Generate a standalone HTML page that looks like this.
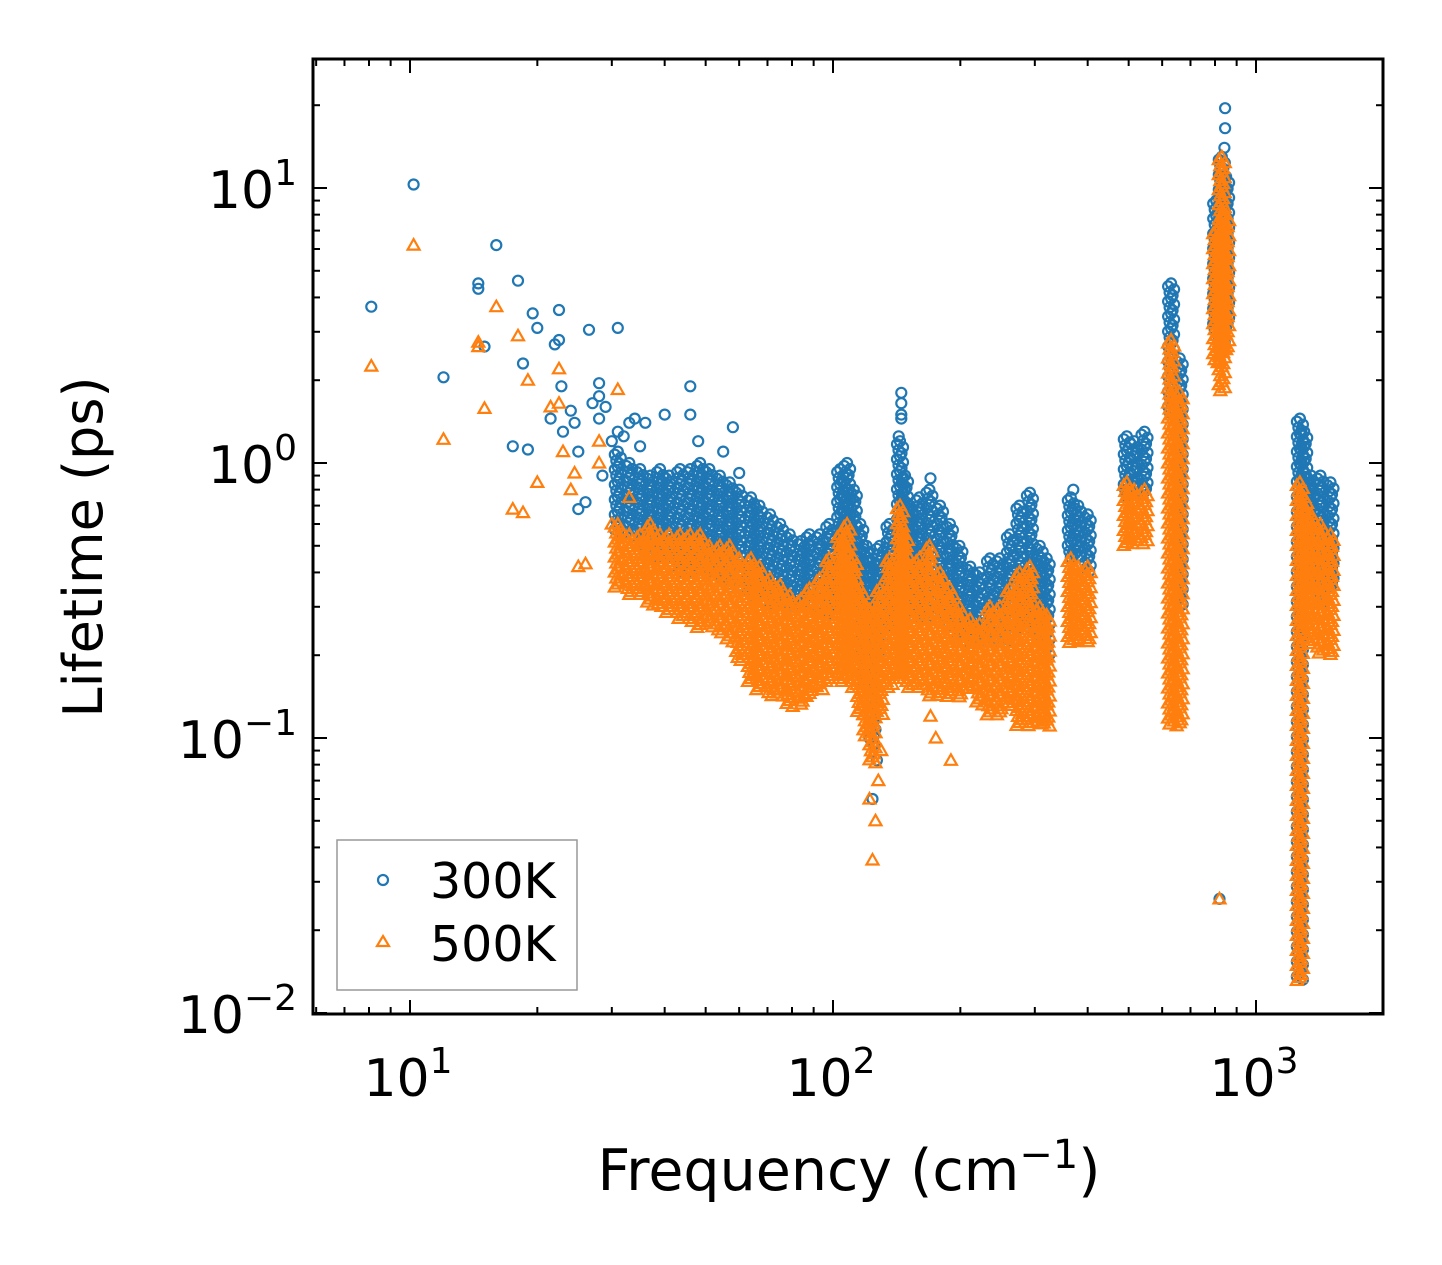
<!DOCTYPE html>
<html><head><meta charset="utf-8"><style>
html,body{margin:0;padding:0;background:#fff}
svg{display:block}
text{font-family:"DejaVu Sans","Liberation Sans",sans-serif;fill:#000}
</style></head><body>
<svg id="chart" width="1442" height="1265" viewBox="0 0 1442 1265" xmlns="http://www.w3.org/2000/svg">
<rect x="0" y="0" width="1442" height="1265" fill="#fff"/>
<g id="marks"></g>
<g id="axes"></g>
<g id="legend">
  <rect x="337" y="840" width="240" height="150" fill="#fff" stroke="#999" stroke-width="1.5"/>
  <circle cx="383" cy="880" r="5" fill="none" stroke="#1f77b4" stroke-width="2.2"/>
  <text x="430" y="898" font-size="49">300K</text>
  <polygon points="383,936 389,946 377,946" fill="none" stroke="#ff7f0e" stroke-width="2.2"/>
  <text x="430" y="961" font-size="49">500K</text>
</g>
<text transform="translate(102,547) rotate(-90)" text-anchor="middle" font-size="54">Lifetime (ps)</text>
<text x="849" y="1190" text-anchor="middle" font-size="57">Frequency (cm<tspan dy="-22" font-size="40">−1</tspan><tspan dy="22">)</tspan></text>
</svg>
<script>
// Dense column envelopes: frequency (cm^-1), 300K lifetime range, 500K lifetime range (ps)
const colF     = [31,33,35,37,39,41,43.5,46,48.5,51,54,57,60,64,67,71,75,79,84,88,93,98,104,108,112,116,120,124,129,136,144,148,152,160,169,179,189,199,211,222,235,248,262,276,292,308,320,365,380,400,495,515,545,630,660,805,830,850,1270,1300,1350,1420,1500];
const blueHi   = [1.1,1.0,0.95,0.9,0.95,0.9,0.95,0.95,1.0,0.95,0.9,0.85,0.8,0.75,0.7,0.65,0.6,0.55,0.52,0.55,0.55,0.6,0.95,1.0,0.8,0.6,0.5,0.45,0.5,0.6,1.2,0.9,0.7,0.75,0.8,0.7,0.6,0.5,0.42,0.4,0.45,0.45,0.55,0.7,0.78,0.5,0.45,0.75,0.7,0.65,1.25,1.2,1.3,4.5,2.4,9,13,11,1.45,1.3,0.9,0.9,0.85];
const blueLo   = [0.55,0.55,0.5,0.45,0.45,0.45,0.4,0.4,0.4,0.4,0.38,0.35,0.35,0.33,0.32,0.3,0.3,0.3,0.3,0.3,0.28,0.28,0.3,0.3,0.27,0.2,0.15,0.1,0.2,0.25,0.28,0.28,0.27,0.27,0.27,0.27,0.25,0.22,0.22,0.22,0.22,0.22,0.22,0.25,0.25,0.22,0.2,0.45,0.45,0.4,0.75,0.75,0.75,1.5,0.3,3,2.5,3,0.013,0.4,0.35,0.3,0.35];
const orangeHi = [0.6,0.55,0.55,0.6,0.55,0.55,0.55,0.55,0.55,0.5,0.5,0.5,0.45,0.45,0.42,0.38,0.36,0.33,0.32,0.35,0.38,0.45,0.55,0.6,0.45,0.35,0.3,0.3,0.35,0.45,0.7,0.55,0.45,0.45,0.5,0.4,0.35,0.3,0.27,0.26,0.3,0.3,0.35,0.4,0.42,0.3,0.28,0.45,0.42,0.42,0.85,0.8,0.8,2.8,1.8,7,13,8,0.85,0.75,0.65,0.6,0.55];
const orangeLo = [0.35,0.33,0.33,0.3,0.3,0.28,0.27,0.26,0.25,0.25,0.24,0.22,0.19,0.16,0.15,0.14,0.14,0.13,0.13,0.14,0.15,0.16,0.16,0.17,0.15,0.12,0.1,0.08,0.12,0.15,0.17,0.16,0.15,0.15,0.14,0.14,0.14,0.14,0.15,0.13,0.12,0.12,0.13,0.11,0.11,0.11,0.11,0.22,0.22,0.22,0.5,0.5,0.5,0.11,0.11,2.3,1.8,2.5,0.013,0.25,0.22,0.2,0.2];
// Isolated points
const blueF = [8.1,10.2,12,14.5,14.5,15,16,17.5,18,18.5,19,19.5,20,21.5,22,22.5,22.5,22.8,23,24,24.5,25,25,26,26.5,27,28,28,28,28.5,29,30,31,31,32,33,34,36,35,40,46,46,48,55,58,60,122,124,125,127,145,145,145,145,143,170,370,820,845,845,842];
const blueT = [3.7,10.3,2.05,4.5,4.3,2.65,6.2,1.15,4.6,2.3,1.12,3.5,3.1,1.45,2.7,3.6,2.8,1.9,1.3,1.55,1.4,1.1,0.68,0.72,3.05,1.65,1.95,1.75,1.45,0.9,1.6,1.2,3.1,1.3,1.25,1.4,1.45,1.4,1.15,1.5,1.9,1.5,1.2,1.1,1.35,0.92,0.1,0.06,0.095,0.083,1.8,1.65,1.5,1.45,1.25,0.88,0.8,0.026,19.5,16.5,14];
const orangeF = [8.1,10.2,12,14.5,14.5,15,16,17.5,18,18.5,19,20,21.5,22.5,22.5,23,24,25,26,28,28,30,31,32,33,35,24.5,122,124,126,128,130,190,170,175,820];
const orangeT = [2.25,6.2,1.22,2.75,2.65,1.58,3.7,0.68,2.9,0.66,2.0,0.85,1.6,1.65,2.2,1.1,0.8,0.42,0.43,1.2,1.0,0.6,1.85,0.55,0.75,0.5,0.92,0.06,0.036,0.05,0.07,0.09,0.083,0.12,0.1,0.026];

const NS="http://www.w3.org/2000/svg";
const X = f => 410 + 423*Math.log10(f/10);
const Y = t => 463 - 275*Math.log10(t);
const marks=document.getElementById('marks');
const axes=document.getElementById('axes');
const BLUE="#1f77b4", ORANGE="#ff7f0e";

function circle(parent,f,t,dx){
  dx=dx||0;
  const c=document.createElementNS(NS,'circle');
  c.setAttribute('cx',(X(f)+dx).toFixed(1));c.setAttribute('cy',Y(t).toFixed(1));c.setAttribute('r','5');
  c.setAttribute('fill','none');c.setAttribute('stroke',BLUE);c.setAttribute('stroke-width','2.2');
  
  
  parent.appendChild(c);
}
function tri(parent,f,t,dx){
  dx=dx||0;
  const x=X(f)+dx,y=Y(t);
  const p=document.createElementNS(NS,'polygon');
  p.setAttribute('points',`${x.toFixed(1)},${(y-6).toFixed(1)} ${(x+6).toFixed(1)},${(y+4.5).toFixed(1)} ${(x-6).toFixed(1)},${(y+4.5).toFixed(1)}`);
  p.setAttribute('fill','none');p.setAttribute('stroke',ORANGE);p.setAttribute('stroke-width','2.2');
  
  
  parent.appendChild(p);
}
const offs=[0,-3,3,-1.5,1.5];
function column(parent,f,hi,lo,fn){
  const y0=Y(hi), y1=Y(lo);
  let k=0;
  for(let y=y0;y<=y1+0.1;y+=3){
    const t=Math.pow(10,(463-y)/275);
    fn(parent,f,t,offs[k%offs.length]);
    k++;
  }
}
const gB=document.createElementNS(NS,'g');


marks.appendChild(gB);
const gO=document.createElementNS(NS,'g');


marks.appendChild(gO);
colF.forEach((f,i)=>column(gB,f,blueHi[i],blueLo[i],circle));
blueF.forEach((f,i)=>circle(gB,f,blueT[i]));
colF.forEach((f,i)=>column(gO,f,orangeHi[i],orangeLo[i],tri));
orangeF.forEach((f,i)=>tri(gO,f,orangeT[i]));

// Axes
const L=313,R=1383,T=59,B=1014;
function line(x1,y1,x2,y2,w,name){
  const l=document.createElementNS(NS,'line');
  l.setAttribute('x1',x1);l.setAttribute('y1',y1);l.setAttribute('x2',x2);l.setAttribute('y2',y2);
  l.setAttribute('stroke','#000');l.setAttribute('stroke-width',w);
  
  
  axes.appendChild(l);
}
const fr=document.createElementNS(NS,'rect');
fr.setAttribute('x',L);fr.setAttribute('y',T);fr.setAttribute('width',R-L);fr.setAttribute('height',B-T);
fr.setAttribute('fill','none');fr.setAttribute('stroke','#000');fr.setAttribute('stroke-width','3');


axes.appendChild(fr);
const xMajor=[10,100,1000], xLabels=['1','2','3'];
const yMajor=[10,1,0.1,0.01], yLabels=['1','0','−1','−2'];
for(let d=0;d<4;d++){
  for(let m=1;m<10;m++){
    const f=Math.pow(10,d)*m;
    const x=X(f); if(x<L+2||x>R-2) continue;
    const len=m===1?14:7;
    line(x,B,x,B-len,2,'x-tick');line(x,T,x,T+len,2,'x-tick');
  }
}
for(let d=-2;d<2;d++){
  for(let m=1;m<10;m++){
    const t=Math.pow(10,d)*m;
    const y=Y(t); if(y<T-1||y>B+1) continue;
    const len=m===1?14:7;
    line(L,y,L+len,y,2,'y-tick');line(R,y,R-len,y,2,'y-tick');
  }
}
xMajor.forEach((f,i)=>{
  const t=document.createElementNS(NS,'text');
  t.setAttribute('x',X(f)-2);t.setAttribute('y',1096);t.setAttribute('text-anchor','middle');t.setAttribute('font-size','52');
  t.innerHTML='10<tspan dy="-23" font-size="36">'+xLabels[i]+'</tspan>';
  
  
  axes.appendChild(t);
});
yMajor.forEach((v,i)=>{
  const t=document.createElementNS(NS,'text');
  t.setAttribute('x',297);t.setAttribute('y',Y(v)+20);t.setAttribute('text-anchor','end');t.setAttribute('font-size','52');
  t.innerHTML='10<tspan dy="-23" font-size="36">'+yLabels[i]+'</tspan>';
  
  
  axes.appendChild(t);
});
</script>
</body></html>
